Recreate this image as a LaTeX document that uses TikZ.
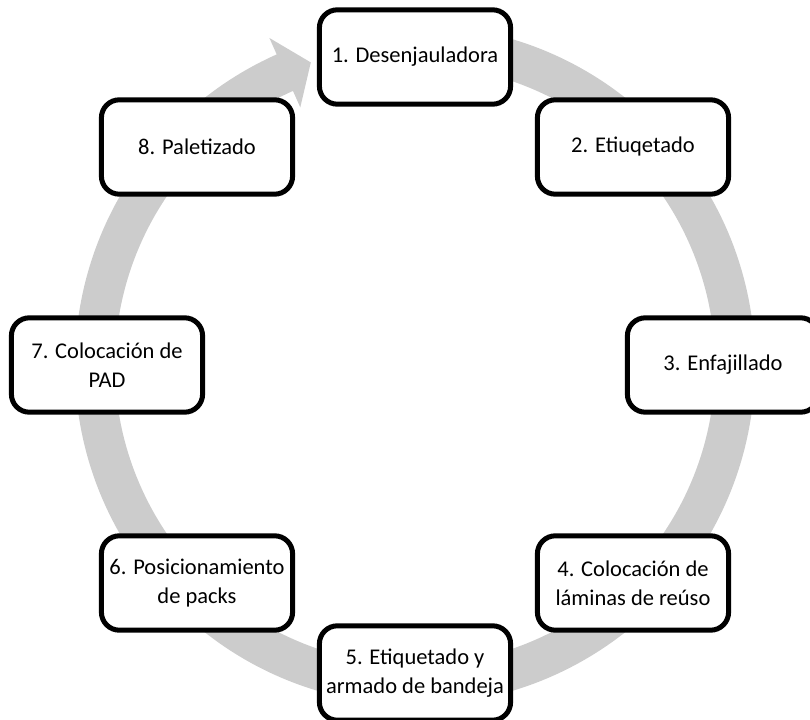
\documentclass[tikz,border=0pt]{standalone}
\usepackage{fontspec}
\setmainfont{Carlito}
\usepackage{tikz}
\pgfdeclarelayer{nodelayer}
\pgfdeclarelayer{edgelayer}
\pgfsetlayers{edgelayer,nodelayer,main}
\tikzstyle{box}=[fill=white, draw=black, shape=rectangle, rounded corners=0.45cm, line width=0.125cm, minimum width=4.78cm, minimum height=2.36cm, inner sep=0pt, align=center, font=\fontsize{16}{20.5}\selectfont]
\tikzstyle{ring}=[fill=black!20]

\begin{document}
\begin{tikzpicture}
	\useasboundingbox (-10.375, -8.875) rectangle (9.875, 9.125);
	\begin{pgfonlayer}{nodelayer}
		\node [style=box] (1) at (0, 7.7) {1. Desenjauladora};
		\node [style=box] (2) at (5.45, 5.45) {2. Etiuqetado};
		\node [style=box] (3) at (7.7, 0) {3. Enfajillado};
		\node [style=box] (4) at (5.45, -5.45) {4. Colocación de\\láminas de reúso};
		\node [style=box] (5) at (0, -7.7) {5. Etiquetado y\\armado de bandeja};
		\node [style=box] (6) at (-5.45, -5.45) {6. Posicionamiento\\de packs};
		\node [style=box] (7) at (-7.7, 0) {7. Colocación de\\PAD};
		\node [style=box] (8) at (-5.45, 5.45) {8. Paletizado};
	\end{pgfonlayer}
	\begin{pgfonlayer}{edgelayer}
		% circular arrow, tail hidden under (1)
		\fill [style=ring] (85:8.5) arc [start angle=85, end angle=-246, radius=8.5]
			-- (-246:8.95) -- (-251:8.0) -- (-246:7.05) -- (-246:7.5)
			arc [start angle=-246, end angle=85, radius=7.5] -- cycle;
	\end{pgfonlayer}
\end{tikzpicture}
\end{document}
